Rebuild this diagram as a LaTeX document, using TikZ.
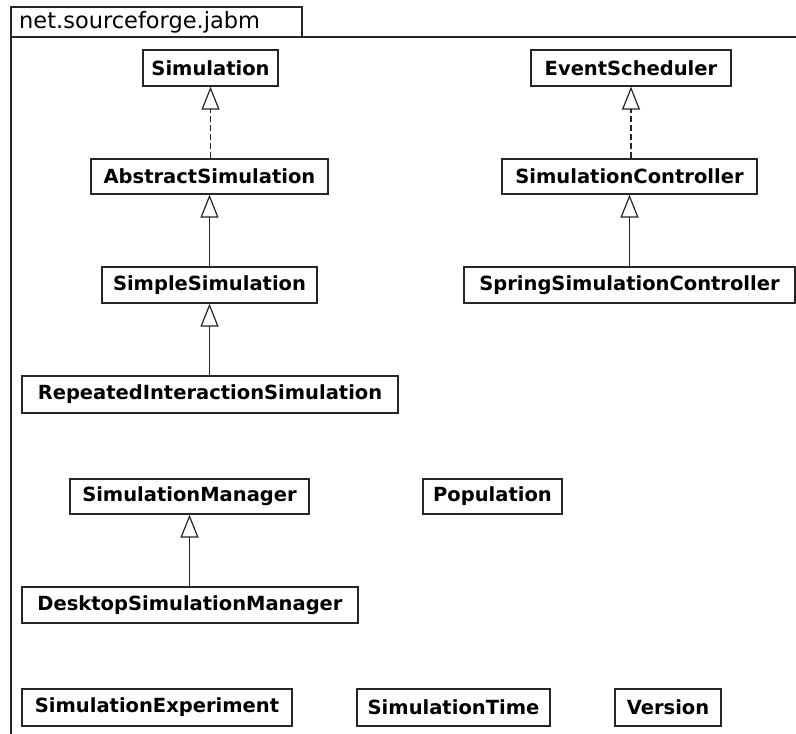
\documentclass[tikz,border=0pt]{standalone}
\usepackage{fontspec}
\setmainfont{DejaVu Sans}
\usetikzlibrary{arrows.meta}
\tikzset{
  frameline/.style={line width=1.2pt, draw=black!85},
  cls/.style={draw=black!85, line width=1.2pt, fill=white, inner sep=0pt,
    font=\fontsize{19.5}{22}\selectfont\bfseries, anchor=center},
  generalize/.style={line width=1.2pt, draw=black!85,
    -{Triangle[open, length=23pt, width=18pt, line width=1.2pt]}},
  realize/.style={generalize, dash pattern=on 6pt off 3pt},
}
% box of given width and height
\newcommand{\clsbox}[6]{\node[cls, minimum width=#4pt, minimum height=#5pt] (#1) at (#2,#3) {#6};}
\begin{document}
\begin{tikzpicture}[x=1pt, y=-1pt]
\useasboundingbox (0,0) rectangle (796,734);
\fill[white] (0,0) rectangle (796,734);

% package frame with name tab
\draw[frameline] (11,37) rectangle (302,7);
\node[anchor=west, inner sep=0pt, font=\fontsize{22.5}{26}\selectfont] (pkg) at (19,22) {net.sourceforge.jabm};
\draw[frameline] (796,37) -- (11,37) -- (11,734);

% classes
\clsbox{sim}{210.5}{68}{135}{36}{Simulation}
\clsbox{es}{631}{68}{200}{36}{EventScheduler}
\clsbox{abs}{209.5}{176.5}{237}{35}{AbstractSimulation}
\clsbox{sc}{629.5}{176.5}{255}{35}{SimulationController}
\clsbox{simple}{209.5}{285}{215}{36}{SimpleSimulation}
\clsbox{spring}{629.5}{285}{331}{36}{SpringSimulationController}
\clsbox{rep}{210}{394.5}{376}{37}{RepeatedInteractionSimulation}
\clsbox{mgr}{189.5}{496.5}{239}{35}{SimulationManager}
\clsbox{pop}{492.5}{496.5}{139}{35}{Population}
\clsbox{desk}{190}{605}{336}{36}{DesktopSimulationManager}
\clsbox{exp}{157}{707.5}{270}{37}{SimulationExperiment}
\clsbox{time}{453.5}{707.5}{193}{37}{SimulationTime}
\clsbox{ver}{668}{707.5}{106}{37}{Version}

% realizations and generalizations
\draw[realize] (abs.north -| sim.south) -- (sim.south);
\draw[generalize] (simple.north -| abs.south) -- (abs.south);
\draw[generalize] (rep.north -| simple.south) -- (simple.south);
\draw[realize] (sc.north -| es.south) -- (es.south);
\draw[generalize] (spring.north -| sc.south) -- (sc.south);
\draw[generalize] (desk.north -| mgr.south) -- (mgr.south);
\end{tikzpicture}
\end{document}
